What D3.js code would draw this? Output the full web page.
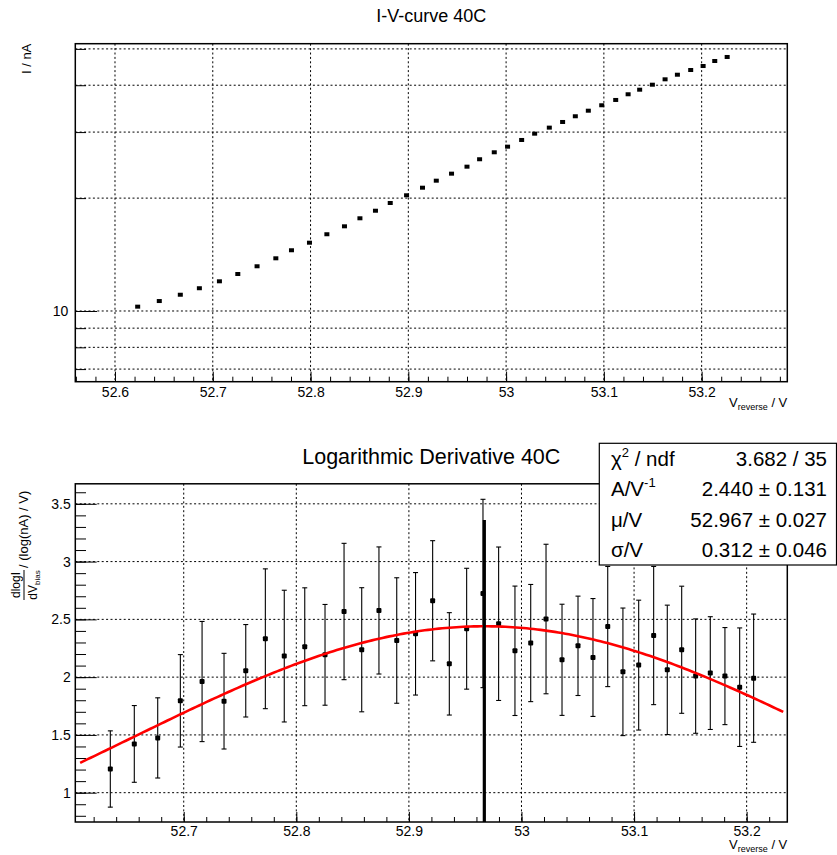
<!DOCTYPE html>
<html>
<head>
<meta charset="utf-8">
<script src="https://cdn.jsdelivr.net/npm/d3@7"></script>
<style>
  html, body { margin: 0; padding: 0; background: #fff; }
  svg { display: block; }
  text { font-family: "Liberation Sans", Arial, Helvetica, sans-serif; fill: #000; }
</style>
</head>
<body>
<svg id="chart" width="837" height="855"></svg>
<script>
// ---------------- DATA ----------------
// Top panel: I-V curve
const ivVoltage = [52.6232, 52.6453, 52.6668, 52.6863, 52.7068, 52.7256, 52.7453, 52.7645, 52.7805, 52.7989,
                   52.8167, 52.8347, 52.8505, 52.8664, 52.8815, 52.8982, 52.9145, 52.9286, 52.9442, 52.9600,
                   52.9729, 52.9879, 53.0015, 53.0159, 53.0292, 53.0442, 53.0578, 53.0708, 53.0841, 53.0978,
                   53.1121, 53.1248, 53.1366, 53.1496, 53.1626, 53.1752, 53.1888, 53.2015, 53.2134, 53.2261];
const ivCurrent = [10.27, 10.63, 11.05, 11.50, 12.00, 12.55, 13.16, 13.82, 14.52, 15.21,
                   16.02, 16.82, 17.67, 18.51, 19.41, 20.35, 21.32, 22.26, 23.24, 24.26,
                   25.39, 26.50, 27.43, 28.58, 29.71, 30.83, 31.92, 33.06, 34.21, 35.37,
                   36.54, 37.84, 38.92, 40.13, 41.48, 42.67, 43.92, 45.01, 46.42, 47.58];

// Bottom panel: logarithmic derivative
const derivVoltage = [52.6348, 52.6561, 52.6769, 52.6970, 52.7163, 52.7358, 52.7551, 52.7725, 52.7893, 52.8075,
                      52.8255, 52.8424, 52.8581, 52.8734, 52.8892, 52.9059, 52.9211, 52.9359, 52.9513, 52.9658,
                      52.9797, 52.9942, 53.0082, 53.0218, 53.0360, 53.0502, 53.0635, 53.0766, 53.0901, 53.1041,
                      53.1174, 53.1295, 53.1423, 53.1547, 53.1677, 53.1807, 53.1938, 53.2062];
const derivValue = [1.205, 1.422, 1.474, 1.795, 1.962, 1.792, 2.055, 2.332, 2.182, 2.263,
                    2.193, 2.568, 2.237, 2.577, 2.317, 2.375, 2.661, 2.115, 2.419, 2.724,
                    2.462, 2.228, 2.295, 2.503, 2.150, 2.271, 2.170, 2.438, 2.046, 2.104,
                    2.360, 2.063, 2.237, 2.009, 2.035, 2.009, 1.913, 1.991];
const derivError = [0.330, 0.332, 0.347, 0.400, 0.520, 0.414, 0.400, 0.605, 0.570, 0.510,
                    0.436, 0.590, 0.537, 0.550, 0.543, 0.530, 0.520, 0.443, 0.523, 0.815,
                    0.664, 0.560, 0.507, 0.647, 0.481, 0.430, 0.510, 0.520, 0.552, 0.562,
                    0.598, 0.560, 0.550, 0.495, 0.488, 0.420, 0.513, 0.555];

// Gaussian fit parameters (from the stats box)
const fitA = 2.440, fitMu = 52.967, fitSigma = 0.312;
const fitRange = [52.608, 53.2325];
const muLineTop = 3.36;

const statsRows = [
  {label: ["χ", "2", " / ndf"], value: "3.682 / 35"},
  {label: ["A/V", "-1", ""], value: "2.440 ± 0.131"},
  {label: ["μ/V", "", ""], value: "52.967 ± 0.027"},
  {label: ["σ/V", "", ""], value: "0.312 ± 0.046"}
];

// Ticks
const topXTicks = [52.6, 52.7, 52.8, 52.9, 53.0, 53.1, 53.2];
const topXLabels = ["52.6", "52.7", "52.8", "52.9", "53", "53.1", "53.2"];
const topYTicks = [7, 8, 9, 10, 20, 30, 40, 50];
const botXTicks = [52.7, 52.8, 52.9, 53.0, 53.1, 53.2];
const botXLabels = ["52.7", "52.8", "52.9", "53", "53.1", "53.2"];
const botYTicks = [1, 1.5, 2, 2.5, 3, 3.5];
const botYLabels = ["1", "1.5", "2", "2.5", "3", "3.5"];

// ---------------- LAYOUT ----------------
const svg = d3.select("#chart");
const FONT = '"Liberation Sans", Arial, Helvetica, sans-serif';
const frT = {l: 75.3, r: 787.3, t: 43.7, b: 381.7};
const frB = {l: 75.3, r: 787.3, t: 483.8, b: 822};

const xTop = d3.scaleLinear().domain([52.5594, 53.2876]).range([frT.l, frT.r]);
const yTop = d3.scaleLog().domain([6.478, 51.62]).range([frT.b, frT.t]);
const xBot = d3.scaleLinear().domain([52.6037, 53.2361]).range([frB.l, frB.r]);
const yBot = d3.scaleLinear().domain([0.7463, 3.6732]).range([frB.b, frB.t]);

function minorRange(a, b, step) {
  const out = [];
  for (let i = Math.ceil(a / step - 1e-6); i * step <= b + 1e-9; i++) out.push(+(i * step).toFixed(4));
  return out;
}

function styleAxis(g, size) {
  g.select(".domain").remove();
  g.selectAll("line").attr("stroke", "#000").attr("stroke-width", 1);
  g.selectAll("text").attr("font-family", FONT).attr("font-size", size).attr("fill", "#000");
}

function panel(frame, x, y, xTicks, xLabels, yTicks, xPad) {
  const g = svg.append("g");
  g.append("rect").attr("x", frame.l).attr("y", frame.t)
    .attr("width", frame.r - frame.l).attr("height", frame.b - frame.t).attr("fill", "#fff");
  // grid
  g.append("g").selectAll("line").data(xTicks).join("line")
    .attr("x1", d => x(d)).attr("x2", d => x(d)).attr("y1", frame.t).attr("y2", frame.b)
    .attr("stroke", "#000").attr("stroke-width", 1).attr("stroke-dasharray", "2,2.4");
  g.append("g").selectAll("line").data(yTicks).join("line")
    .attr("x1", frame.l).attr("x2", frame.r).attr("y1", d => y(d)).attr("y2", d => y(d))
    .attr("stroke", "#000").attr("stroke-width", 1).attr("stroke-dasharray", "2,2.4");
  // x axis: minor + major
  const xd = x.domain();
  g.append("g").attr("transform", `translate(0,${frame.b})`)
    .call(d3.axisBottom(x).tickValues(minorRange(xd[0], xd[1], 0.02)).tickSize(-5).tickFormat(""))
    .call(s => styleAxis(s, 14));
  g.append("g").attr("transform", `translate(0,${frame.b})`)
    .call(d3.axisBottom(x).tickValues(xTicks).tickSize(-10).tickPadding(xPad).tickFormat((d, i) => xLabels[i]))
    .call(s => styleAxis(s, 14));
  return g;
}

// ---------------- TOP PANEL ----------------
const gT = panel(frT, xTop, yTop, topXTicks, topXLabels, topYTicks, 4.9);
gT.append("g").attr("transform", `translate(${frT.l},0)`)
  .call(d3.axisLeft(yTop).tickValues(topYTicks.filter(d => d !== 10)).tickSize(-10.7).tickFormat(""))
  .call(s => styleAxis(s, 14));
gT.append("g").attr("transform", `translate(${frT.l},0)`)
  .call(d3.axisLeft(yTop).tickValues([10]).tickSize(-21.7).tickPadding(7).tickFormat(() => "10"))
  .call(s => styleAxis(s, 14));
gT.append("g").selectAll("rect").data(ivVoltage).join("rect")
  .attr("x", d => xTop(d) - 2.5).attr("y", (d, i) => yTop(ivCurrent[i]) - 2)
  .attr("width", 5).attr("height", 4).attr("fill", "#000");
gT.append("rect").attr("x", frT.l).attr("y", frT.t).attr("width", frT.r - frT.l).attr("height", frT.b - frT.t)
  .attr("fill", "none").attr("stroke", "#000").attr("stroke-width", 1.5);
svg.append("text").attr("x", 431.3).attr("y", 22).attr("text-anchor", "middle")
  .attr("font-size", 18).text("I-V-curve 40C");
const xtT = svg.append("text").attr("x", frT.r).attr("y", 406.7).attr("text-anchor", "end").attr("font-size", 13);
xtT.append("tspan").text("V");
xtT.append("tspan").attr("font-size", 9).attr("dy", 3).text("reverse");
xtT.append("tspan").attr("dy", -3).text(" / V");
svg.append("text").attr("transform", `translate(31,${frT.t}) rotate(-90)`).attr("text-anchor", "end")
  .attr("font-size", 13).text("I / nA");

// ---------------- BOTTOM PANEL ----------------
const gB = panel(frB, xBot, yBot, botXTicks, botXLabels, botYTicks, 4.1);
const yd = yBot.domain();
gB.append("g").attr("transform", `translate(${frB.l},0)`)
  .call(d3.axisLeft(yBot).tickValues(minorRange(yd[0], yd[1], 0.1)).tickSize(-10.7).tickFormat(""))
  .call(s => styleAxis(s, 14));
gB.append("g").attr("transform", `translate(${frB.l},0)`)
  .call(d3.axisLeft(yBot).tickValues(botYTicks).tickSize(-21.4).tickPadding(4.6).tickFormat((d, i) => botYLabels[i]))
  .call(s => styleAxis(s, 14));

const eb = gB.append("g").attr("stroke", "#000").attr("stroke-width", 1.1);
eb.selectAll("line.v").data(derivVoltage).join("line").attr("class", "v")
  .attr("x1", d => xBot(d)).attr("x2", d => xBot(d))
  .attr("y1", (d, i) => yBot(derivValue[i] + derivError[i])).attr("y2", (d, i) => yBot(derivValue[i] - derivError[i]));
eb.selectAll("line.t").data(derivVoltage).join("line").attr("class", "t")
  .attr("x1", d => xBot(d) - 2.5).attr("x2", d => xBot(d) + 2.5)
  .attr("y1", (d, i) => yBot(derivValue[i] + derivError[i])).attr("y2", (d, i) => yBot(derivValue[i] + derivError[i]));
eb.selectAll("line.b").data(derivVoltage).join("line").attr("class", "b")
  .attr("x1", d => xBot(d) - 2.5).attr("x2", d => xBot(d) + 2.5)
  .attr("y1", (d, i) => yBot(derivValue[i] - derivError[i])).attr("y2", (d, i) => yBot(derivValue[i] - derivError[i]));
gB.append("g").selectAll("rect").data(derivVoltage).join("rect")
  .attr("x", d => xBot(d) - 2.5).attr("y", (d, i) => yBot(derivValue[i]) - 2.5)
  .attr("width", 5).attr("height", 5).attr("rx", 1).attr("fill", "#000");

const fitX = d3.range(0, 201).map(i => fitRange[0] + (fitRange[1] - fitRange[0]) * i / 200);
const gauss = v => fitA * Math.exp(-0.5 * Math.pow((v - fitMu) / fitSigma, 2));
gB.append("path").datum(fitX)
  .attr("d", d3.line().x(d => xBot(d)).y(d => yBot(gauss(d))))
  .attr("fill", "none").attr("stroke", "#ff0000").attr("stroke-width", 2.6);

gB.append("line").attr("x1", xBot(fitMu)).attr("x2", xBot(fitMu))
  .attr("y1", yBot(yd[0])).attr("y2", yBot(muLineTop))
  .attr("stroke", "#000").attr("stroke-width", 3.2);

gB.append("rect").attr("x", frB.l).attr("y", frB.t).attr("width", frB.r - frB.l).attr("height", frB.b - frB.t)
  .attr("fill", "none").attr("stroke", "#000").attr("stroke-width", 1.5);

svg.append("text").attr("x", 431.3).attr("y", 464.3).attr("text-anchor", "middle")
  .attr("font-size", 21.5).text("Logarithmic Derivative 40C");

const xtB = svg.append("text").attr("x", frB.r).attr("y", 848.5).attr("text-anchor", "end").attr("font-size", 13);
xtB.append("tspan").text("V");
xtB.append("tspan").attr("font-size", 9).attr("dy", 3).text("reverse");
xtB.append("tspan").attr("dy", -3).text(" / V");

const yt = svg.append("g").attr("transform", "translate(24,600) rotate(-90)");
yt.append("line").attr("x1", 0).attr("x2", 30).attr("y1", 0).attr("y2", 0).attr("stroke", "#000").attr("stroke-width", 1);
yt.append("text").attr("x", 15).attr("y", -4.3).attr("text-anchor", "middle").attr("font-size", 12).text("dlogI");
const den = yt.append("text").attr("x", 15).attr("y", 13).attr("text-anchor", "middle").attr("font-size", 12);
den.append("tspan").text("dV");
den.append("tspan").attr("font-size", 8).attr("dy", 3).text("bias");
yt.append("text").attr("x", 32).attr("y", 3.5).attr("font-size", 13).text("/ (log(nA) / V)");

// ---------------- STATS BOX ----------------
const box = {l: 599.3, t: 443.3, r: 836.5, b: 565};
const sb = svg.append("g");
sb.append("rect").attr("x", box.l).attr("y", box.t).attr("width", box.r - box.l).attr("height", box.b - box.t)
  .attr("fill", "#fff").attr("stroke", "#000").attr("stroke-width", 1.2);
const rowH = (box.b - box.t) / statsRows.length;
statsRows.forEach((r, i) => {
  const yb = box.t + rowH * (i + 0.5) + 7.3;
  const t = sb.append("text").attr("x", 611).attr("y", yb).attr("font-size", 20.5);
  t.append("tspan").text(r.label[0]);
  if (r.label[1]) t.append("tspan").attr("font-size", 13).attr("dy", -9).text(r.label[1]);
  if (r.label[2]) t.append("tspan").attr("dy", r.label[1] ? 9 : 0).text(r.label[2]);
  sb.append("text").attr("x", 827).attr("y", yb).attr("text-anchor", "end").attr("font-size", 20.5).text(r.value);
});
</script>
</body>
</html>
